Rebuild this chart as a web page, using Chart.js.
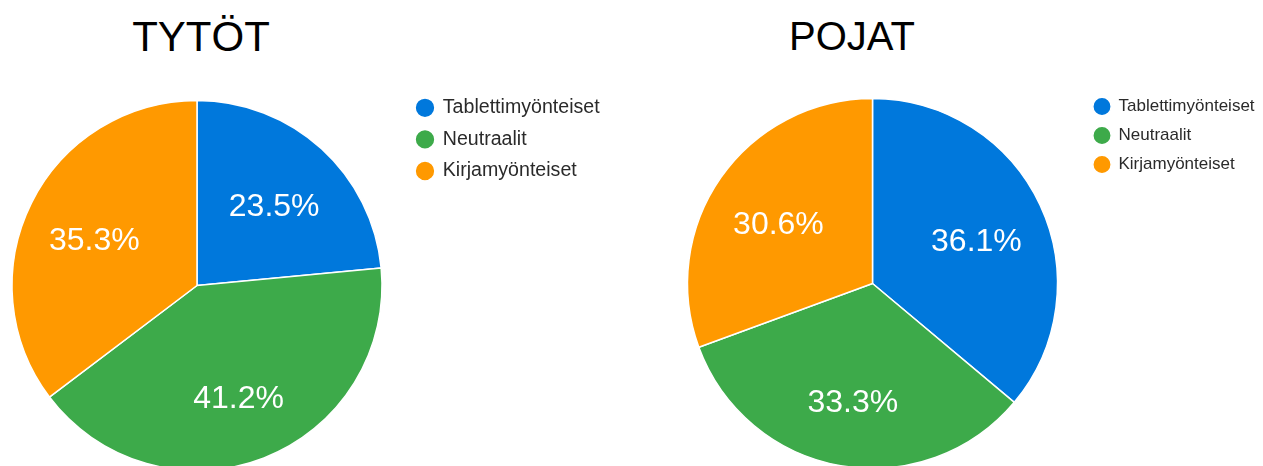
<!DOCTYPE html>
<html lang="fi">
<head>
<meta charset="utf-8">
<title>Tytöt ja pojat</title>
<script src="https://cdn.jsdelivr.net/npm/chart.js@4.4.1/dist/chart.umd.min.js"></script>
<style>
  html, body { margin: 0; padding: 0; background: #fff; overflow: hidden; }
  body { width: 1263px; height: 466px; position: relative; font-family: "Liberation Sans", Arial, sans-serif; }
  .otsikko { position: absolute; top: 16px; margin: 0; font-weight: normal; color: #000; line-height: 1; transform: translateX(-50%); white-space: nowrap; }
  .kaavio { position: absolute; }
</style>
</head>
<body>
<h2 class="otsikko" style="left: 201px; font-size: 42px;">TYTÖT</h2>
<h2 class="otsikko" style="left: 852px; font-size: 40px;">POJAT</h2>
<div class="kaavio" style="left: -11px; top: 86px; width: 642px; height: 399px;"><canvas id="tytot"></canvas></div>
<div class="kaavio" style="left: 663px; top: 86px; width: 610px; height: 395px;"><canvas id="pojat"></canvas></div>
<script>
// Luokat ja osuudet (%)
const luokat = ['Tablettimyönteiset', 'Neutraalit', 'Kirjamyönteiset'];
const tytotArvot = [23.5, 41.2, 35.3];
const pojatArvot = [36.1, 33.3, 30.6];
const varit = ['#0078dc', '#3daa4a', '#ff9900'];

const FONTTI = '"Liberation Sans", Arial, sans-serif';

// Prosenttitekstit siivujen sisään
const prosenttiTekstit = {
    id: 'prosenttiTekstit',
    afterDatasetsDraw(chart, args, opts) {
        const ctx = chart.ctx;
        const meta = chart.getDatasetMeta(0);
        const arvot = chart.data.datasets[0].data;
        ctx.save();
        ctx.fillStyle = '#ffffff';
        ctx.font = opts.font;
        ctx.textAlign = 'center';
        ctx.textBaseline = 'middle';
        meta.data.forEach((arc, i) => {
            const p = arc.getProps(['x', 'y', 'startAngle', 'endAngle', 'outerRadius'], true);
            const kulma = (p.startAngle + p.endAngle) / 2;
            const r = p.outerRadius * opts.etaisyys;
            ctx.fillText(arvot[i].toFixed(1) + '%', p.x + Math.cos(kulma) * r, p.y + Math.sin(kulma) * r + opts.siirto);
        });
        ctx.restore();
    }
};

// Selitteen leveys, jotta selite osuu oikeaan kohtaan piirakan viereen
function selitteenLeveys(koko) {
    const ctx = document.createElement('canvas').getContext('2d');
    ctx.font = koko + 'px ' + FONTTI;
    const leveys = Math.max(...luokat.map(t => ctx.measureText(t).width));
    return 12 + 16 + koko / 2 + leveys + 10;
}

function luoPiirakka(canvasId, arvot, koko) {
    const canvas = document.getElementById(canvasId);
    const leveys = canvas.parentNode.clientWidth;
    const oikea = leveys - koko.alue - selitteenLeveys(koko.fontti);
    new Chart(canvas, {
        type: 'pie',
        data: {
            labels: luokat,
            datasets: [{
                data: arvot,
                backgroundColor: varit,
                borderColor: '#ffffff',
                borderWidth: 1.5,
                radius: 185
            }]
        },
        options: {
            responsive: true,
            maintainAspectRatio: false,
            animation: false,
            layout: {
                padding: { right: oikea }
            },
            plugins: {
                legend: {
                    position: 'right',
                    align: 'start',
                    labels: {
                        usePointStyle: true,
                        pointStyle: 'circle',
                        boxWidth: 16,
                        boxHeight: koko.pallo,
                        padding: 12,
                        color: '#2a2a2a',
                        font: { family: FONTTI, size: koko.fontti }
                    }
                },
                tooltip: { enabled: false },
                prosenttiTekstit: {
                    font: '32px ' + FONTTI,
                    etaisyys: 0.62,
                    siirto: 7
                }
            }
        },
        plugins: [prosenttiTekstit]
    });
}

luoPiirakka('tytot', tytotArvot, { alue: 416, pallo: 14, fontti: 19.6 });
luoPiirakka('pojat', pojatArvot, { alue: 419, pallo: 13, fontti: 17 });
</script>
</body>
</html>
